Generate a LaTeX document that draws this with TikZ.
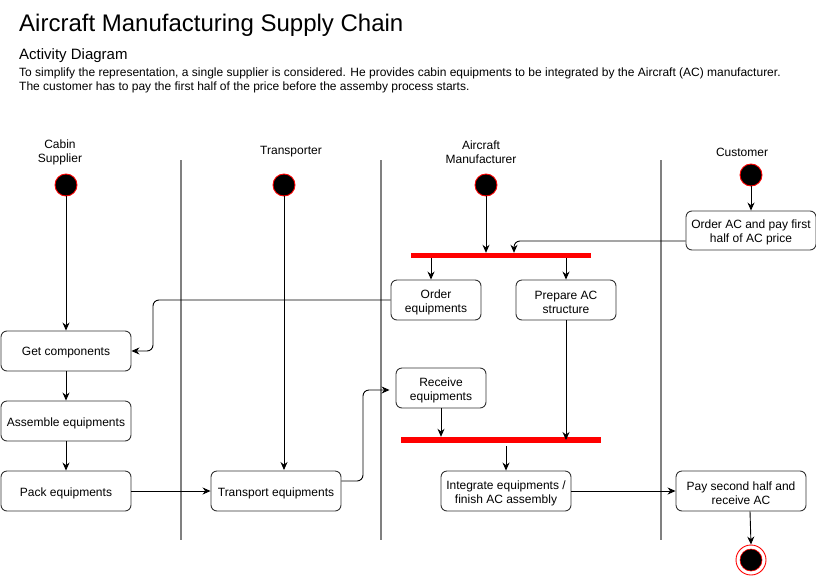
\documentclass[tikz,border=0pt]{standalone}
\usepackage{fontspec}
\setmainfont{Liberation Sans}
\usetikzlibrary{arrows.meta}
\tikzset{
  act/.style={draw=black!80, line width=0.9pt, rounded corners=6pt, inner sep=0pt},
  acttext/.style={align=center, inner sep=0pt, font=\fontsize{12}{14}\selectfont, yshift=-2pt},
  txt/.style={label={[acttext]center:#1}},
  initnode/.style={circle, fill=black, draw=red, line width=0.9pt, minimum size=22pt, inner sep=0pt},
  bar/.style={fill=red, draw=none, inner sep=0pt},
  lane/.style={draw=black!50, line width=1.8pt},
  hdr/.style={align=center, font=\fontsize{12}{14}\selectfont},
  conn/.style={draw=black, line width=0.9pt, -{Stealth[length=8pt,width=7pt]}, rounded corners=6pt},
}
\begin{document}
\begin{tikzpicture}[x=1pt,y=-1pt]
\useasboundingbox (0,0) rectangle (816,576);
% title texts
\node[anchor=base west, inner sep=0pt, font=\fontsize{24}{28}\selectfont] (title) at (19,31) {Aircraft Manufacturing Supply Chain};
\node[anchor=base west, inner sep=0pt, font=\fontsize{15}{18}\selectfont] (sub) at (19,59) {Activity Diagram};
\node[anchor=base west, inner sep=0pt, align=left, font=\fontsize{12}{14}\selectfont] (desc1) at (19,76) {To simplify the representation, a single supplier is considered. He provides cabin equipments to be integrated by the Aircraft (AC) manufacturer.};
\node[anchor=base west, inner sep=0pt, align=left, font=\fontsize{12}{14}\selectfont] (desc2) at (19,90) {The customer has to pay the first half of the price before the assemby process starts.};
% lanes
\draw[lane] (181,160) coordinate (l1a) -- (181,540) coordinate (l1b);
\draw[lane] (381,160) coordinate (l2a) -- (381,540) coordinate (l2b);
\draw[lane] (661,160) coordinate (l3a) -- (661,540) coordinate (l3b);
% headers
\node[hdr] (h1) at (60,152) {Cabin\\Supplier};
\node[hdr] (h2) at (291,152) {Transporter};
\node[hdr] (h3) at (481,152) {Aircraft\\Manufacturer};
\node[hdr] (h4) at (742,152) {Customer};
% initial nodes
\node[initnode] (i1) at (66,185) {};
\node[initnode] (i2) at (284,185) {};
\node[initnode] (i3) at (486,185) {};
\node[initnode] (i4) at (751,175) {};
% activities
\node[act, minimum width=130pt, minimum height=39pt, txt={Order AC and pay first\\half of AC price}] (orderac) at (751,230.5) {};
\node[bar, minimum width=180pt, minimum height=5pt] (bar1) at (501,255.5) {};
\node[act, minimum width=90pt, minimum height=40pt, txt={Order\\equipments}] (ordereq) at (436,300) {};
\node[act, minimum width=100pt, minimum height=40pt, txt={Prepare AC\\structure}] (prep) at (566,300) {};
\node[act, minimum width=130pt, minimum height=40pt, txt={Get components}] (getc) at (66,351) {};
\node[act, minimum width=90pt, minimum height=40pt, txt={Receive\\equipments}] (recv) at (441,388) {};
\node[act, minimum width=130pt, minimum height=40pt, txt={Assemble equipments}] (assem) at (66,421) {};
\node[bar, minimum width=200pt, minimum height=6pt] (bar2) at (501,440) {};
\node[act, minimum width=130pt, minimum height=40pt, txt={Pack equipments}] (pack) at (66,491) {};
\node[act, minimum width=130pt, minimum height=40pt, txt={Transport equipments}] (trans) at (276,491) {};
\node[act, minimum width=130pt, minimum height=40pt, txt={Integrate equipments /\\finish AC assembly}] (integ) at (506,491) {};
\node[act, minimum width=130pt, minimum height=40pt, txt={Pay second half and\\receive AC}] (pay) at (741,491) {};
% final node
\node[circle, draw=red, line width=0.9pt, minimum size=30pt, inner sep=0pt] (fin) at (751,560) {};
\node[circle, fill=black, draw=red, line width=0.6pt, minimum size=22pt, inner sep=0pt] (finin) at (751,560) {};
% connectors
\draw[conn] (i1) -- (getc.north);
\draw[conn] (i2.south) -- (284,470);
\draw[conn] (i3) -- (bar1.north -| i3);
\draw[conn] (i4) -- (orderac.north -| i4);
\draw[conn] ([yshift=-10.5pt]orderac.west) -| ([xshift=13pt]bar1.north);
\draw[conn] (ordereq.north |- bar1.south) ++(-5,0) coordinate (b1a) -- (ordereq.north -| b1a);
\draw[conn] (prep.north |- bar1.south) -- (prep.north);
\draw[conn] (ordereq.west) -| (153,351) -- (getc.east);
\draw[conn] (getc) -- (assem);
\draw[conn] (assem) -- (pack);
\draw[conn] (pack) -- (trans);
\draw[conn] ([yshift=10pt]trans.east) -| (363,390) -- ([xshift=-6pt]recv.west |- 0,390);
\draw[conn] (recv.south) -- (recv.south |- bar2.north);
\draw[conn] (prep.south) -- (prep.south |- bar2.center);
\draw[conn] (506,446) coordinate (b2o) -- (integ.north);
\draw[conn] (integ) -- (pay);
\draw[conn] ([xshift=9pt]pay.south) -- (fin.north);
\end{tikzpicture}
\end{document}
